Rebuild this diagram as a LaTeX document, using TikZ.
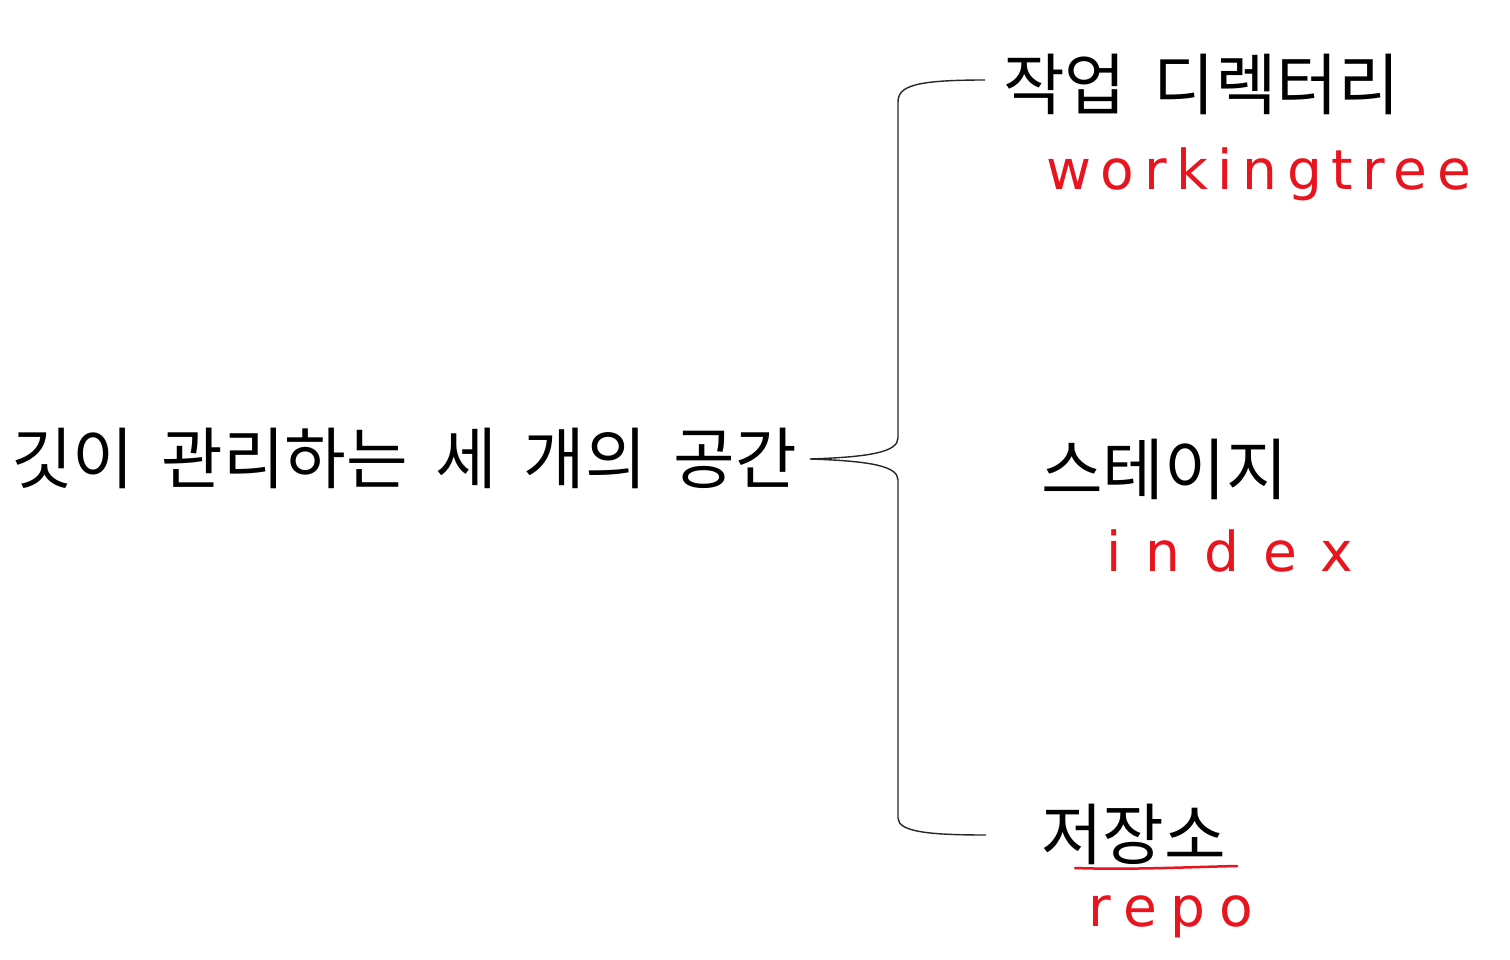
\documentclass[tikz,border=0pt]{standalone}
\usepackage{fontspec}
\newfontfamily\kor[WordSpace=1.8]{Noto Sans CJK KR}
\newfontfamily\hand{DejaVu Sans}
\newcommand{\korsize}{\fontsize{67}{75}\selectfont}
\newcommand{\handsize}{\fontsize{55}{60}\selectfont}
\definecolor{pen}{HTML}{E8141E}
\tikzset{
  kortext/.style={inner sep=0pt, font={\kor\korsize}},
  redtext/.style={inner sep=0pt, text=pen},
  bracepath/.style={draw=black!85, line width=1.4pt, line join=round},
  penline/.style={draw=pen, line width=2.5pt, line cap=round}
}
\begin{document}
\begin{tikzpicture}[x=1pt,y=-1pt]
\useasboundingbox[fill=white] (0,0) rectangle (1510,960);
% main label
\node[kortext, anchor=base west] (space) at (11,483) {깃이 관리하는 세 개의 공간};
% items
\node[kortext, anchor=base west] (wd) at (1003,110) {작업 디렉터리};
\node[kortext, anchor=base west] (stage) at (1041,494) {스테이지};
\node[kortext, anchor=base west] (repo) at (1041,859) {저장소};
% red annotations
\node[redtext, anchor=base west, font={\hand\handsize\addfontfeature{LetterSpace=17.5}}] (wt) at (1046,190) {workingtree};
\node[redtext, anchor=base west, font={\hand\handsize\addfontfeature{LetterSpace=44}}] (idx) at (1106,571) {index};
\node[redtext, anchor=base west, font={\hand\handsize\addfontfeature{LetterSpace=25}}] (rp) at (1088,926) {repo};
% brace
\coordinate (tip) at (810,459);
\coordinate (topend) at (985,80);
\coordinate (botend) at (986,835);
\draw[bracepath] (topend) .. controls (915,80) and (898,86) .. (898,102)
  -- (898,438) .. controls (898,452) and (870,457) .. (tip)
  .. controls (870,461) and (898,466) .. (898,480)
  -- (898,818) .. controls (898,832) and (930,835) .. (botend);
% red underline under repo label
\coordinate (ul1) at (1075,868);
\coordinate (ul2) at (1237,866);
\draw[penline] (ul1) .. controls (1130,870) and (1190,867) .. (ul2);
\end{tikzpicture}
\end{document}
